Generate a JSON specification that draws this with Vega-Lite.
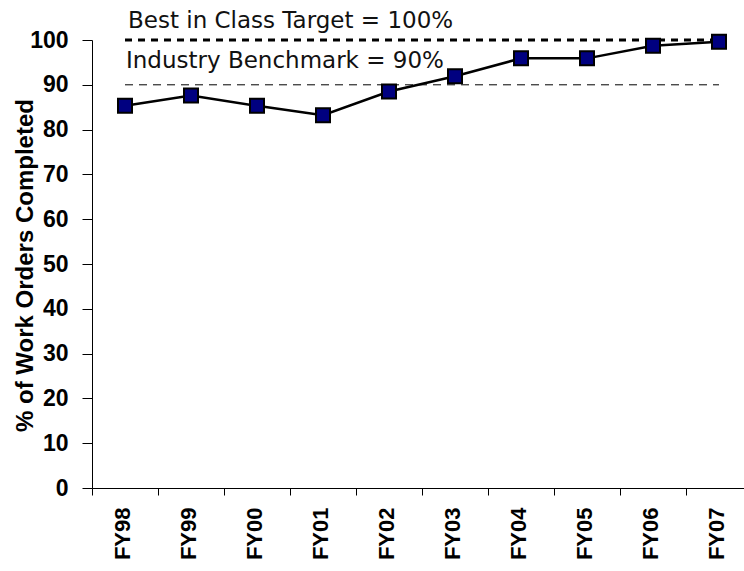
{
  "$schema": "https://vega.github.io/schema/vega-lite/v6.json",
  "width": 652,
  "height": 448,
  "autosize": {"type": "none"},
  "padding": {"left": 92, "top": 40, "right": 0, "bottom": 83},
  "background": "white",
  "config": {"view": {"stroke": null}, "font": "Liberation Sans"},
  "datasets": {
    "perf": [
      {"fy": "FY98", "v": 85.3},
      {"fy": "FY99", "v": 87.6},
      {"fy": "FY00", "v": 85.3},
      {"fy": "FY01", "v": 83.2},
      {"fy": "FY02", "v": 88.5},
      {"fy": "FY03", "v": 91.9},
      {"fy": "FY04", "v": 95.9},
      {"fy": "FY05", "v": 95.9},
      {"fy": "FY06", "v": 98.7},
      {"fy": "FY07", "v": 99.6}
    ],
    "best": [{"fy": "FY98", "v": 100}, {"fy": "FY07", "v": 100}],
    "ind": [{"fy": "FY98", "v": 90}, {"fy": "FY07", "v": 90}],
    "bestNote": [{"fy": "FY98", "v": 100, "note": "Best in Class Target = 100%"}],
    "indNote": [{"fy": "FY98", "v": 90, "note": "Industry Benchmark = 90%"}]
  },
  "encoding": {
    "x": {
      "field": "fy",
      "type": "ordinal",
      "scale": {
        "type": "band",
        "domain": ["FY98", "FY99", "FY00", "FY01", "FY02", "FY03", "FY04", "FY05", "FY06", "FY07"],
        "range": [0, 660],
        "paddingInner": 0,
        "paddingOuter": 0
      },
      "axis": {
        "title": null,
        "tickBand": "extent",
        "tickSize": 7,
        "tickColor": "black",
        "domainColor": "black",
        "domainWidth": 1,
        "labelAngle": -90,
        "labelAlign": "right",
        "labelBaseline": "middle",
        "labelPadding": 12,
        "labelFont": "Liberation Sans",
        "labelFontSize": 22,
        "labelFontWeight": "bold",
        "labelColor": "black",
        "labelOffset": -3,
        "grid": false
      }
    },
    "y": {
      "field": "v",
      "type": "quantitative",
      "scale": {"domain": [0, 100], "nice": false, "zero": true},
      "axis": {
        "values": [0, 10, 20, 30, 40, 50, 60, 70, 80, 90, 100],
        "tickSize": 10,
        "tickColor": "black",
        "domainColor": "black",
        "labelPadding": 14,
        "labelFont": "Liberation Sans",
        "labelFontSize": 23,
        "labelFontWeight": "bold",
        "labelColor": "black",
        "grid": false,
        "title": "% of Work Orders Completed",
        "titleFont": "Liberation Sans",
        "titleFontSize": 24,
        "titleFontWeight": "bold",
        "titleColor": "black",
        "titleAngle": -90,
        "titleAlign": "center",
        "titleBaseline": "middle",
        "titleX": -67,
        "titleY": 225
      }
    }
  },
  "layer": [
    {
      "data": {"name": "best"},
      "mark": {"type": "line", "color": "black", "strokeWidth": 3, "strokeDash": [7, 6]},
      "encoding": {}
    },
    {
      "data": {"name": "ind"},
      "mark": {"type": "line", "color": "black", "strokeWidth": 1, "strokeDash": [8, 6]},
      "encoding": {}
    },
    {
      "data": {"name": "bestNote"},
      "mark": {"type": "text", "align": "left", "baseline": "alphabetic", "dx": 3, "dy": -12, "font": "DejaVu Sans", "fontSize": 23, "color": "#111111"},
      "encoding": {"text": {"field": "note"}}
    },
    {
      "data": {"name": "indNote"},
      "mark": {"type": "text", "align": "left", "baseline": "alphabetic", "dx": 1, "dy": -17, "font": "DejaVu Sans", "fontSize": 23, "color": "#111111"},
      "encoding": {"text": {"field": "note"}}
    },
    {
      "data": {"name": "perf"},
      "mark": {"type": "line", "color": "black", "strokeWidth": 2.5},
      "encoding": {}
    },
    {
      "data": {"name": "perf"},
      "mark": {"type": "point", "shape": "square", "filled": true, "size": 196, "fill": "#000080", "stroke": "black", "strokeWidth": 2, "opacity": 1},
      "encoding": {}
    }
  ]
}
